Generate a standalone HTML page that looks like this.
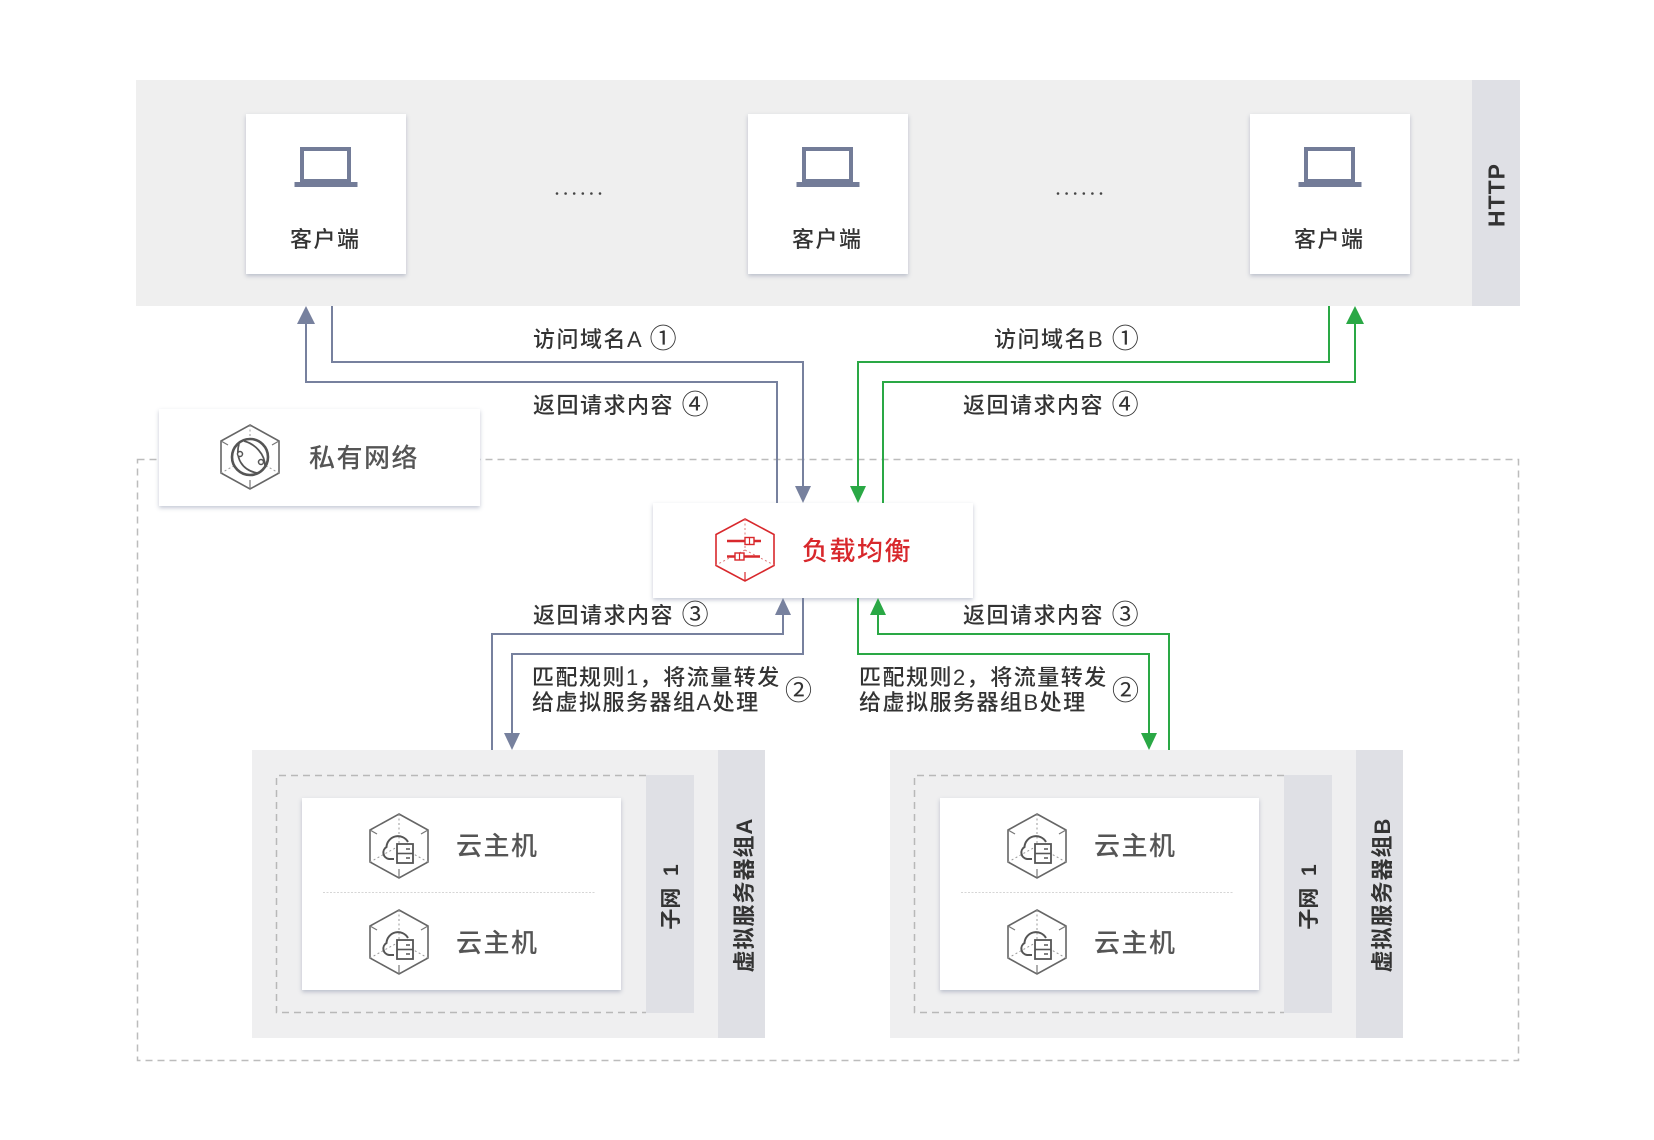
<!DOCTYPE html>
<html><head><meta charset="utf-8">
<style>
*{margin:0;padding:0;box-sizing:border-box}
body{width:1654px;height:1140px;background:#fff;overflow:hidden;font-family:"Liberation Sans","Noto Sans CJK SC",sans-serif;color:#333}
#c{position:relative;width:1654px;height:1140px}
.abs{position:absolute}
.card{position:absolute;background:#fff;box-shadow:0 2px 4px rgba(90,100,135,0.35)}
.t{position:absolute;white-space:nowrap;font-size:22px;letter-spacing:1.5px;color:#333;font-weight:500}
.n{font-size:27px;line-height:0;position:relative;top:1px;font-weight:400}
.vt{position:absolute;white-space:nowrap;font-weight:bold;color:#333;transform:translate(-50%,-50%) rotate(-90deg)}
svg{position:absolute;left:0;top:0}
</style></head><body><div id="c">

<!-- background dashed border -->
<svg width="1654" height="1140">
<rect x="137.5" y="459.5" width="1381" height="601" fill="none" stroke="#bcbcbc" stroke-width="1.5" stroke-dasharray="7 5"/>
</svg>

<!-- HTTP band -->
<div class="abs" style="left:136px;top:80px;width:1384px;height:226px;background:#efefef"></div>
<div class="abs" style="left:1472px;top:80px;width:48px;height:226px;background:#dfe0e5"></div>
<div class="vt" style="left:1497px;top:195px;font-size:23px;letter-spacing:1px;font-family:'Liberation Sans',sans-serif">HTTP</div>

<!-- client cards -->
<div class="card" style="left:246px;top:114px;width:160px;height:160px"></div>
<div class="card" style="left:748px;top:114px;width:160px;height:160px"></div>
<div class="card" style="left:1250px;top:114px;width:160px;height:160px"></div>
<div class="t" style="left:290px;top:226px;line-height:28px">客户端</div>
<div class="t" style="left:792px;top:226px;line-height:28px">客户端</div>
<div class="t" style="left:1294px;top:226px;line-height:28px">客户端</div>

<!-- private network box -->
<div class="card" style="left:159px;top:409px;width:321px;height:97px"></div>
<div class="t" style="left:309px;top:440px;line-height:36px;font-size:26px;color:#555">私有网络</div>

<!-- load balancer -->
<div class="card" style="left:653px;top:503px;width:320px;height:95px"></div>
<div class="t" style="left:802px;top:533px;line-height:36px;font-size:26px;color:#d8282c">负载均衡</div>

<!-- Group A -->
<div class="abs" style="left:252px;top:750px;width:513px;height:288px;background:#efeff0"></div>
<div class="abs" style="left:718px;top:750px;width:47px;height:288px;background:#dfe0e5"></div>
<div class="abs" style="left:646px;top:775px;width:48px;height:238px;background:#dfe0e5"></div>
<div class="card" style="left:302px;top:798px;width:319px;height:192px"></div>
<div class="t" style="left:456px;top:828px;line-height:36px;font-size:26px;color:#555">云主机</div>
<div class="t" style="left:456px;top:925px;line-height:36px;font-size:26px;color:#555">云主机</div>
<div class="vt" style="left:670px;top:897px;font-size:21px">子网&nbsp;&nbsp;1</div>
<div class="vt" style="left:743px;top:895px;font-size:22px;letter-spacing:1px">虚拟服务器组A</div>

<!-- Group B -->
<div class="abs" style="left:890px;top:750px;width:513px;height:288px;background:#efeff0"></div>
<div class="abs" style="left:1356px;top:750px;width:47px;height:288px;background:#dfe0e5"></div>
<div class="abs" style="left:1284px;top:775px;width:48px;height:238px;background:#dfe0e5"></div>
<div class="card" style="left:940px;top:798px;width:319px;height:192px"></div>
<div class="t" style="left:1094px;top:828px;line-height:36px;font-size:26px;color:#555">云主机</div>
<div class="t" style="left:1094px;top:925px;line-height:36px;font-size:26px;color:#555">云主机</div>
<div class="vt" style="left:1308px;top:897px;font-size:21px">子网&nbsp;&nbsp;1</div>
<div class="vt" style="left:1381px;top:895px;font-size:22px;letter-spacing:1px">虚拟服务器组B</div>

<!-- connector labels -->
<div class="t" style="left:533px;top:326px;line-height:28px">访问域名A <span class="n">①</span></div>
<div class="t" style="left:533px;top:392px;line-height:28px">返回请求内容 <span class="n">④</span></div>
<div class="t" style="left:994px;top:326px;line-height:28px">访问域名B <span class="n">①</span></div>
<div class="t" style="left:963px;top:392px;line-height:28px">返回请求内容 <span class="n">④</span></div>
<div class="t" style="left:533px;top:602px;line-height:28px">返回请求内容 <span class="n">③</span></div>
<div class="t" style="left:963px;top:602px;line-height:28px">返回请求内容 <span class="n">③</span></div>
<div class="t" style="left:532px;top:665px;line-height:25px">匹配规则1，将流量转发<br>给虚拟服务器组A处理</div>
<div class="t" style="left:785px;top:678px;line-height:28px"><span class="n">②</span></div>
<div class="t" style="left:859px;top:665px;line-height:25px">匹配规则2，将流量转发<br>给虚拟服务器组B处理</div>
<div class="t" style="left:1112px;top:678px;line-height:28px"><span class="n">②</span></div>

<!-- foreground svg: icons, lines, arrows -->
<svg width="1654" height="1140">
<defs>
<g id="lap">
<rect x="-24" y="-16" width="47" height="32" fill="none" stroke="#737c98" stroke-width="4"/>
<rect x="-31.5" y="17" width="63" height="5" fill="#737c98"/>
</g>
<g id="hex">
<polygon points="30,1 59,17 59,49 30,65 1,49 1,17" fill="none" stroke="#666" stroke-width="1.6"/>
<g stroke="#999" stroke-width="1" stroke-dasharray="2 2.5" fill="none">
<line x1="30" y1="1" x2="30" y2="33"/>
<line x1="30" y1="33" x2="1" y2="49"/>
<line x1="30" y1="33" x2="59" y2="49"/>
</g>
<line x1="30" y1="65" x2="30" y2="56" stroke="#777" stroke-width="1.2"/>
<line x1="1" y1="17" x2="8" y2="21" stroke="#777" stroke-width="1.2"/>
<line x1="59" y1="17" x2="52" y2="21" stroke="#777" stroke-width="1.2"/>
</g>
<g id="vm">
<use href="#hex"/>
<path d="M25 46 H20 A6.5 6.5 0 0 1 17.5 34 A11.5 11.5 0 0 1 39 29" fill="none" stroke="#555" stroke-width="2"/>
<rect x="28" y="31" width="16" height="19" fill="#fff" stroke="#555" stroke-width="1.8"/>
<line x1="28" y1="40.5" x2="44" y2="40.5" stroke="#555" stroke-width="1.6"/>
<line x1="37" y1="36" x2="41" y2="36" stroke="#555" stroke-width="1.5"/>
<line x1="37" y1="45" x2="41" y2="45" stroke="#555" stroke-width="1.5"/>
</g>
</defs>

<!-- laptops -->
<use href="#lap" transform="translate(326,165)"/>
<use href="#lap" transform="translate(828,165)"/>
<use href="#lap" transform="translate(1330,165)"/>

<!-- dots -->
<g fill="#444">
<circle cx="557" cy="193.5" r="1.3"/><circle cx="565.6" cy="193.5" r="1.3"/><circle cx="574.2" cy="193.5" r="1.3"/><circle cx="582.8" cy="193.5" r="1.3"/><circle cx="591.4" cy="193.5" r="1.3"/><circle cx="600" cy="193.5" r="1.3"/>
<circle cx="1058" cy="193.5" r="1.3"/><circle cx="1066.6" cy="193.5" r="1.3"/><circle cx="1075.2" cy="193.5" r="1.3"/><circle cx="1083.8" cy="193.5" r="1.3"/><circle cx="1092.4" cy="193.5" r="1.3"/><circle cx="1101" cy="193.5" r="1.3"/>
</g>

<!-- private network globe icon -->
<g transform="translate(220,424)">
<use href="#hex"/>
<circle cx="30" cy="33" r="18" fill="#fff" stroke="#555" stroke-width="2.6"/>
<path d="M19 20 C15 34 22 46 37 49" fill="none" stroke="#555" stroke-width="1.7"/>
<path d="M24 17 C35 20 45 30 45 42" fill="none" stroke="#555" stroke-width="1.7"/>
<circle cx="20" cy="30" r="2.5" fill="#fff" stroke="#555" stroke-width="1.5"/>
<circle cx="41" cy="38" r="2.5" fill="#fff" stroke="#555" stroke-width="1.5"/>
</g>

<!-- LB icon -->
<g transform="translate(715,518)">
<polygon points="30,1 59,16.5 59,47.5 30,63 1,47.5 1,16.5" fill="none" stroke="#d8282c" stroke-width="1.6"/>
<g stroke="#e07a7c" stroke-width="1" stroke-dasharray="2 2.5" fill="none">
<line x1="30" y1="1" x2="30" y2="32"/>
<line x1="30" y1="32" x2="1" y2="47"/>
<line x1="30" y1="32" x2="59" y2="47"/>
</g>
<line x1="30" y1="63" x2="30" y2="54" stroke="#d8282c" stroke-width="1.2"/>
<line x1="12" y1="23" x2="46" y2="23" stroke="#d8282c" stroke-width="2.4"/>
<rect x="30" y="19.5" width="9" height="7" fill="#fff" stroke="#d8282c" stroke-width="1.4"/>
<line x1="34.5" y1="19.5" x2="34.5" y2="26.5" stroke="#d8282c" stroke-width="1.2"/>
<line x1="12" y1="38.5" x2="45" y2="38.5" stroke="#d8282c" stroke-width="2.4"/>
<rect x="20" y="35" width="9" height="7" fill="#fff" stroke="#d8282c" stroke-width="1.4"/>
<line x1="24.5" y1="35" x2="24.5" y2="42" stroke="#d8282c" stroke-width="1.2"/>
</g>

<!-- inner dashed boxes -->
<g fill="none" stroke="#b8b8b8" stroke-width="1.5" stroke-dasharray="7 5">
<path d="M646 775.5 H276.5 V1012.5 H646"/>
<path d="M1284 775.5 H914.5 V1012.5 H1284"/>
</g>
<!-- dividers -->
<g stroke="#d6d6d6" stroke-width="1" stroke-dasharray="2 1.5">
<line x1="323" y1="892.5" x2="596" y2="892.5"/>
<line x1="961" y1="892.5" x2="1234" y2="892.5"/>
</g>

<!-- VM icons -->
<use href="#vm" transform="translate(369,813)"/>
<use href="#vm" transform="translate(369,909)"/>
<use href="#vm" transform="translate(1007,813)"/>
<use href="#vm" transform="translate(1007,909)"/>

<!-- blue connectors -->
<g fill="none" stroke="#77819e" stroke-width="2">
<polyline points="332,306 332,362 803,362 803,487"/>
<polyline points="306,323 306,382 777,382 777,503"/>
<polyline points="492,750 492,634 783,634 783,614"/>
<polyline points="803,598 803,654 512,654 512,734"/>
</g>
<g fill="#77819e">
<polygon points="795,486 811,486 803,503"/>
<polygon points="297,324 315,324 306,306"/>
<polygon points="775,615 791,615 783,598"/>
<polygon points="504,733 520,733 512,750"/>
</g>
<!-- green connectors -->
<g fill="none" stroke="#2aa845" stroke-width="2">
<polyline points="1329,306 1329,362 858,362 858,487"/>
<polyline points="1355,323 1355,382 883,382 883,503"/>
<polyline points="1169,750 1169,634 878,634 878,614"/>
<polyline points="858,598 858,654 1149,654 1149,734"/>
</g>
<g fill="#2aa845">
<polygon points="850,486 866,486 858,503"/>
<polygon points="1346,324 1364,324 1355,306"/>
<polygon points="870,615 886,615 878,598"/>
<polygon points="1141,733 1157,733 1149,750"/>
</g>
</svg>

</div></body></html>
